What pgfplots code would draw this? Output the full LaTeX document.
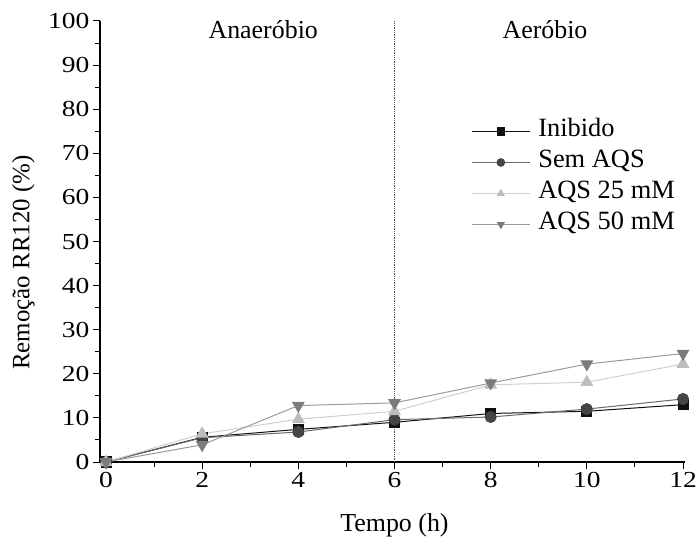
\documentclass[border=0pt]{standalone}
\usepackage{fontspec}
\setmainfont{Liberation Serif}
\newfontfamily\tickfont[FakeStretch=1.2]{Liberation Serif}
\usepackage{pgfplots}
\pgfplotsset{compat=1.18}
\definecolor{cInib}{HTML}{111111}
\definecolor{cSem}{HTML}{454545}
\definecolor{cSemL}{HTML}{6a6a6a}
\definecolor{c25}{HTML}{BDBDBD}
\definecolor{c25L}{HTML}{CFCFCF}
\definecolor{c50}{HTML}{7C7C7C}
\definecolor{c50L}{HTML}{9A9A9A}
\begin{document}
\begin{tikzpicture}
\useasboundingbox (0bp,0bp) rectangle (697bp,544bp);
\begin{axis}[
  at={(100bp,82bp)}, anchor=south west,
  scale only axis, width=585.4bp, height=441bp,
  xmin=-0.125, xmax=12.05, ymin=0, ymax=100,
  axis x line*=bottom, axis y line*=left,
  axis line style={line width=1.2bp, -},
  xtick={0,2,...,12}, ytick={0,10,...,100},
  minor xtick={1,3,...,11}, minor y tick num=1,
  tick align=outside,
  major tick length=7bp, minor tick length=5bp,
  every tick/.style={line width=1bp, black},
  tick label style={font=\tickfont\fontsize{23}{25}\selectfont},
  /pgf/number format/assume math mode=true,
  xlabel={Tempo (h)}, ylabel={Remoção RR120 (\%)},
  label style={font=\fontsize{26}{28}\selectfont},
  xlabel style={at={(axis description cs:0.503,-0.143)}, anchor=center},
  ylabel style={at={(axis description cs:-0.131,0.452)}, anchor=center, rotate=0, font=\fontsize{25}{27}\selectfont},
  legend style={draw=none, fill=none, at={(axis description cs:0.634,0.776)}, anchor=north west,
    font=\fontsize{26.5}{28}\selectfont, row sep=8bp, inner sep=0bp,
    nodes={inner sep=0bp, text height=17bp, text depth=6bp}},
  legend cell align=left,
  legend image code/.code={\draw[mark repeat=2,mark phase=2,#1, mark size=3.8bp] plot coordinates {(0bp,0bp) (29bp,0bp) (58bp,0bp)}; \path (66bp,0bp);},
  clip=false,
]
\addplot[cInib, line width=1bp, mark=square*, mark size=5bp, mark options={fill=cInib, draw=cInib}]
  coordinates {(0,0) (2,5.6) (4,7.4) (6,9.0) (8,11.0) (10,11.5) (12,13.0)};
\addlegendentry{Inibido}
\addplot[cSemL, line width=1bp, mark=*, mark size=5.5bp, mark options={fill=cSem, draw=cSem}]
  coordinates {(0,0) (2,5.5) (4,6.8) (6,9.6) (8,10.2) (10,12.0) (12,14.3)};
\addlegendentry{Sem AQS}
\addplot[c25L, line width=1bp, mark=triangle*, mark size=6.5bp, mark options={fill=c25, draw=c25}]
  coordinates {(0,0) (2,6.4) (4,9.7) (6,11.5) (8,17.5) (10,18.1) (12,22.2)};
\addlegendentry{AQS 25 mM}
\addplot[c50L, line width=1bp, mark=triangle*, mark size=6.5bp, mark options={fill=c50, draw=c50, rotate=180}]
  coordinates {(0,0) (2,3.9) (4,12.8) (6,13.4) (8,17.9) (10,22.2) (12,24.6)};
\addlegendentry{AQS 50 mM}
\addplot[black!70, line width=0.8bp, densely dotted, forget plot] coordinates {(6,0) (6,100)};
\node[font=\fontsize{26}{28}\selectfont] at (axis cs:3.27,98) {Anaeróbio};
\node[font=\fontsize{26}{28}\selectfont] at (axis cs:9.13,98) {Aeróbio};
\end{axis}
\end{tikzpicture}
\end{document}
